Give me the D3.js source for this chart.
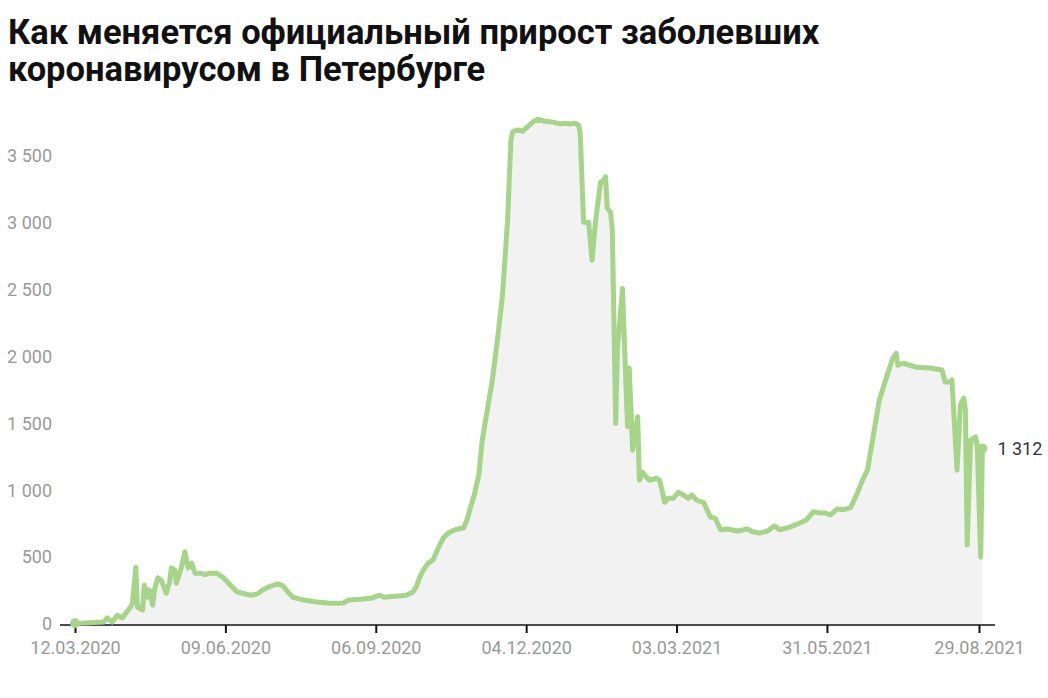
<!DOCTYPE html>
<html>
<head>
<meta charset="utf-8">
<script src="https://cdn.jsdelivr.net/npm/d3@7"></script>
<style>
  html, body { margin: 0; padding: 0; background: #fff; }
  svg { display: block; }
  text { font-family: Roboto, "Liberation Sans", Arial, sans-serif; }
</style>
</head>
<body>
<svg id="chart" width="1048" height="698"></svg>
<script>
const titleLines = ["Как меняется официальный прирост заболевших", "коронавирусом в Петербурге"];

const dates = [
  "2020-03-12","2020-03-17","2020-03-29","2020-03-31","2020-04-03","2020-04-06","2020-04-09","2020-04-11",
  "2020-04-14","2020-04-15","2020-04-17","2020-04-18","2020-04-21","2020-04-22","2020-04-24","2020-04-25",
  "2020-04-27","2020-04-28","2020-04-30","2020-05-02","2020-05-05","2020-05-07","2020-05-08","2020-05-10",
  "2020-05-11","2020-05-14","2020-05-16","2020-05-17","2020-05-18","2020-05-20","2020-05-22","2020-05-25",
  "2020-05-28","2020-05-31","2020-06-04","2020-06-08","2020-06-12","2020-06-16","2020-06-19","2020-06-24",
  "2020-06-28","2020-07-01","2020-07-05","2020-07-10","2020-07-13","2020-07-16","2020-07-19","2020-07-25",
  "2020-08-02","2020-08-10","2020-08-18","2020-08-21","2020-08-28","2020-09-04","2020-09-08","2020-09-11",
  "2020-09-16","2020-09-20","2020-09-24","2020-09-28","2020-09-30","2020-10-02","2020-10-04","2020-10-07",
  "2020-10-10","2020-10-13","2020-10-16","2020-10-19","2020-10-23","2020-10-28","2020-10-30","2020-11-01",
  "2020-11-03","2020-11-06","2020-11-08","2020-11-11","2020-11-14","2020-11-17","2020-11-20","2020-11-23",
  "2020-11-25","2020-11-26","2020-11-29","2020-12-02","2020-12-04","2020-12-06","2020-12-08","2020-12-11",
  "2020-12-15","2020-12-19","2020-12-24","2020-12-27","2020-12-30","2021-01-02","2021-01-04","2021-01-05",
  "2021-01-07","2021-01-10","2021-01-12","2021-01-14","2021-01-17","2021-01-18","2021-01-20","2021-01-21",
  "2021-01-23","2021-01-24","2021-01-26","2021-01-27","2021-01-30","2021-02-02","2021-02-03","2021-02-05",
  "2021-02-08","2021-02-09","2021-02-11","2021-02-12","2021-02-15","2021-02-19","2021-02-21","2021-02-24",
  "2021-02-26","2021-03-01","2021-03-04","2021-03-07","2021-03-10","2021-03-12","2021-03-15","2021-03-19",
  "2021-03-23","2021-03-26","2021-03-29","2021-04-02","2021-04-08","2021-04-14","2021-04-17","2021-04-21",
  "2021-04-26","2021-04-30","2021-05-03","2021-05-09","2021-05-15","2021-05-19","2021-05-23","2021-05-27",
  "2021-05-30","2021-06-02","2021-06-06","2021-06-10","2021-06-14","2021-06-18","2021-06-21","2021-06-24",
  "2021-06-27","2021-07-01","2021-07-06","2021-07-09","2021-07-11","2021-07-12","2021-07-15","2021-07-23",
  "2021-07-31","2021-08-07","2021-08-09","2021-08-12","2021-08-13","2021-08-16","2021-08-18","2021-08-20",
  "2021-08-21","2021-08-22","2021-08-24","2021-08-27","2021-08-28","2021-08-30","2021-08-31"
];

const values = [
  6, 7, 15, 45, 15, 65, 45, 80,
  130, 155, 425, 125, 105, 290, 200, 255,
  140, 255, 345, 330, 230, 315, 420, 405,
  305, 425, 540, 480, 420, 455, 380, 380,
  370, 380, 380, 345, 290, 240, 230, 215,
  225, 255, 280, 300, 285, 240, 200, 180,
  165, 155, 157, 180, 185, 195, 215, 200,
  205, 210, 215, 240, 280, 350, 400, 455,
  480, 570, 645, 680, 705, 720, 780, 870,
  950, 1115, 1375, 1600, 1825, 2125, 2460, 3020,
  3620, 3680, 3695, 3685, 3710, 3730, 3755, 3775,
  3760, 3755, 3740, 3745, 3740, 3745, 3730, 3670,
  3005, 3005, 2720, 3005, 3305, 3300, 3345, 3110,
  3075, 2945, 1500, 2050, 2510, 1475, 1915, 1300,
  1550, 1075, 1135, 1115, 1075, 1090, 1075, 910,
  940, 940, 985, 965, 940, 965, 925, 910,
  800, 790, 705, 710, 695, 710, 690, 680,
  695, 735, 705, 725, 755, 780, 840, 830,
  830, 815, 860, 855, 870, 980, 1075, 1150,
  1375, 1675, 1875, 1990, 2025, 1935, 1950, 1920,
  1915, 1900, 1810, 1810, 1825, 1150, 1640, 1690,
  1600, 590, 1375, 1400, 1325, 500, 1312
];

const xTickLabels = ["12.03.2020","09.06.2020","06.09.2020","04.12.2020","03.03.2021","31.05.2021","29.08.2021"];
const yTickValues = [0, 500, 1000, 1500, 2000, 2500, 3000, 3500];

const parseISO = d3.timeParse("%Y-%m-%d");
const parseLabel = d3.timeParse("%d.%m.%Y");
const fmtLabel = d3.timeFormat("%d.%m.%Y");
const data = dates.map((d, i) => ({ date: parseISO(d), value: values[i] }));
const xTicks = xTickLabels.map(parseLabel);

const svg = d3.select("#chart");

// Title
const title = svg.append("text")
  .attr("x", 8)
  .attr("y", 44)
  .attr("font-size", 34.5)
  .attr("font-weight", 700)
  .attr("fill", "#111");
titleLines.forEach((t, i) => {
  title.append("tspan").attr("x", 8).attr("dy", i === 0 ? 0 : 37).text(t);
});

const x = d3.scaleTime()
  .domain([xTicks[0], xTicks[xTicks.length - 1]])
  .range([75, 979]);
const y = d3.scaleLinear()
  .domain([0, 3500])
  .range([624, 156]);

const lineColor = "#a6d489";

// Area fill
const area = d3.area()
  .x(d => x(d.date))
  .y0(y(0))
  .y1(d => y(d.value));
svg.append("path")
  .datum(data)
  .attr("d", area)
  .attr("fill", "#f2f2f2");

// Y axis labels (no line)
const yAxis = svg.append("g")
  .attr("transform", "translate(52,0)")
  .call(d3.axisLeft(y).tickValues(yTickValues).tickSize(0).tickPadding(0));
yAxis.select(".domain").remove();
yAxis.selectAll("text")
  .attr("fill", "#999")
  .attr("font-size", 18)
  .attr("font-family", "Roboto, 'Liberation Sans', Arial, sans-serif")
  .text(d => d === 0 ? "0" : d3.format(",")(d).replace(/,/g, " "));

// X axis
const xAxis = svg.append("g")
  .attr("transform", `translate(0,${y(0) + 1})`)
  .call(d3.axisBottom(x).tickValues(xTicks).tickSize(8).tickSizeOuter(0).tickPadding(8)
    .tickFormat(fmtLabel));
xAxis.select(".domain").remove();
xAxis.selectAll(".tick line").attr("stroke", "#111").attr("stroke-width", 2);
xAxis.selectAll("text")
  .attr("fill", "#999")
  .attr("font-size", 18)
  .attr("font-family", "Roboto, 'Liberation Sans', Arial, sans-serif");
svg.append("line")
  .attr("x1", 60).attr("x2", 995)
  .attr("y1", y(0) + 1).attr("y2", y(0) + 1)
  .attr("stroke", "#111").attr("stroke-width", 1.5);

// Line
const line = d3.line()
  .x(d => x(d.date))
  .y(d => y(d.value));
svg.append("path")
  .datum(data)
  .attr("d", line)
  .attr("fill", "none")
  .attr("stroke", lineColor)
  .attr("stroke-width", 5)
  .attr("stroke-linejoin", "round")
  .attr("stroke-linecap", "round");

// End points
const first = data[0], last = data[data.length - 1];
[first, last].forEach(d => {
  svg.append("circle")
    .attr("cx", x(d.date)).attr("cy", y(d.value))
    .attr("r", 5).attr("fill", lineColor);
});

// Last value label
svg.append("text")
  .attr("x", x(last.date) + 15)
  .attr("y", y(last.value) + 6)
  .attr("font-size", 18)
  .attr("fill", "#333")
  .text(d3.format(",")(last.value).replace(/,/g, " "));
</script>
</body>
</html>
